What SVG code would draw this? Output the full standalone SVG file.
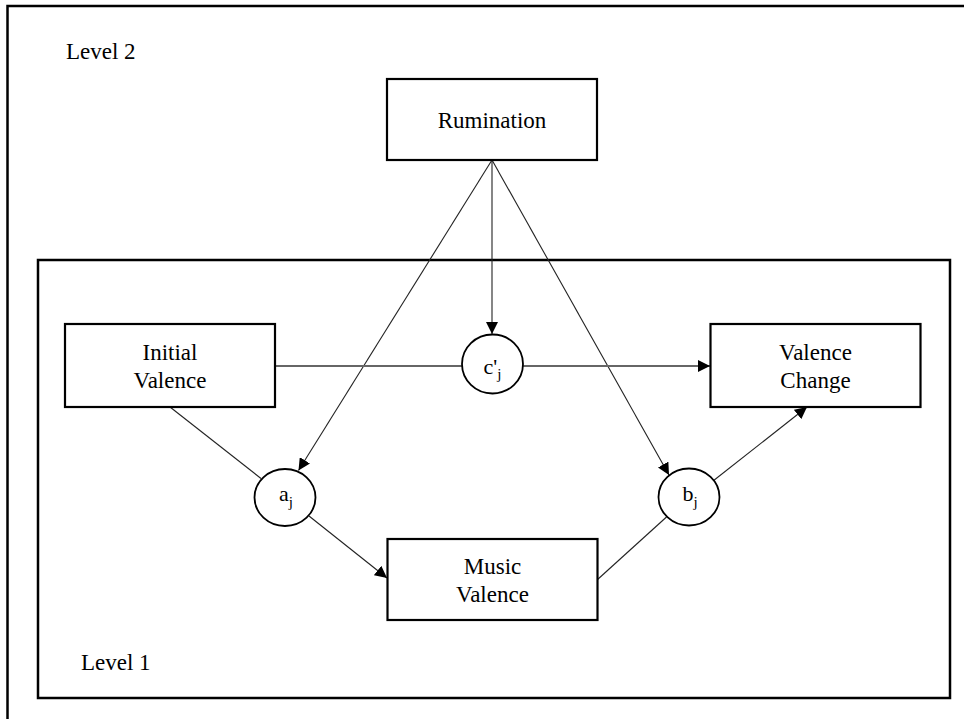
<svg xmlns="http://www.w3.org/2000/svg" width="964" height="719" viewBox="0 0 964 719">
  <style>
    .frame { fill: none; stroke: #000; stroke-width: 2.5; }
    .box { fill: #fff; stroke: #000; stroke-width: 2.2; }
    .circ { fill: #fff; stroke: #000; stroke-width: 1.8; }
    .lbl { font-family: "Liberation Serif", "Times New Roman", serif; font-size: 23px; fill: #000; }
    .sym { font-family: "Liberation Serif", "Times New Roman", serif; font-size: 22px; fill: #000; }
    .sub { font-size: 15px; }
    .edge { stroke: #222; stroke-width: 1.1; fill: none; }
    .edge-h { stroke: #666; stroke-width: 2; fill: none; }
  </style>
  <defs>
    <marker id="arrow" markerUnits="userSpaceOnUse" markerWidth="13" markerHeight="12" refX="12" refY="6" orient="auto">
      <path d="M0,0 L12,6 L0,12 Z" fill="#000"/>
    </marker>
  </defs>
  <rect width="964" height="719" fill="#fff"/>

  <g id="level2-frame">
    <rect class="frame" x="7.5" y="6" width="1000" height="800"/>
    <text class="lbl" x="66" y="59">Level 2</text>
  </g>
  <g id="level1-frame">
    <rect class="frame" x="38" y="260" width="912" height="438"/>
    <text class="lbl" x="81" y="670">Level 1</text>
  </g>

  <g id="connectors">
    <line class="edge" x1="492" y1="160" x2="492" y2="334" marker-end="url(#arrow)"/>
    <line class="edge" x1="492" y1="160" x2="298.5" y2="470.5" marker-end="url(#arrow)"/>
    <line class="edge" x1="492" y1="160" x2="669" y2="475" marker-end="url(#arrow)"/>
    <line class="edge-h" x1="275" y1="366" x2="462" y2="366"/>
    <line class="edge-h" x1="523" y1="366" x2="710" y2="366" marker-end="url(#arrow)"/>
    <line class="edge" x1="170" y1="407" x2="261" y2="478.5"/>
    <line class="edge" x1="309" y1="516" x2="387" y2="578" marker-end="url(#arrow)"/>
    <line class="edge" x1="597" y1="580" x2="666.5" y2="517"/>
    <line class="edge" x1="713" y1="481" x2="807" y2="407" marker-end="url(#arrow)"/>
  </g>

  <g id="rumination">
    <rect class="box" x="387" y="79" width="210" height="81"/>
    <text class="lbl" x="492" y="127.5" text-anchor="middle">Rumination</text>
  </g>
  <g id="initial-valence">
    <rect class="box" x="65" y="324" width="210" height="83"/>
    <text class="lbl" x="170" y="360" text-anchor="middle">Initial</text>
    <text class="lbl" x="170" y="388" text-anchor="middle">Valence</text>
  </g>
  <g id="valence-change">
    <rect class="box" x="710.5" y="324" width="210" height="83"/>
    <text class="lbl" x="815.5" y="360" text-anchor="middle">Valence</text>
    <text class="lbl" x="815.5" y="388" text-anchor="middle">Change</text>
  </g>
  <g id="music-valence">
    <rect class="box" x="387.5" y="539" width="210" height="81"/>
    <text class="lbl" x="492.5" y="574" text-anchor="middle">Music</text>
    <text class="lbl" x="492.5" y="602" text-anchor="middle">Valence</text>
  </g>

  <g id="c-prime-j">
    <ellipse class="circ" cx="492.5" cy="364" rx="30.5" ry="29.5"/>
    <text class="sym" x="492.5" y="374" text-anchor="middle">c'<tspan class="sub" dy="5">j</tspan></text>
  </g>
  <g id="a-j">
    <ellipse class="circ" cx="285" cy="497.5" rx="30.5" ry="28.5"/>
    <text class="sym" x="286" y="501" text-anchor="middle">a<tspan class="sub" dy="6">j</tspan></text>
  </g>
  <g id="b-j">
    <ellipse class="circ" cx="689" cy="497" rx="30.5" ry="28.5"/>
    <text class="sym" x="690" y="501" text-anchor="middle">b<tspan class="sub" dy="6">j</tspan></text>
  </g>
</svg>
